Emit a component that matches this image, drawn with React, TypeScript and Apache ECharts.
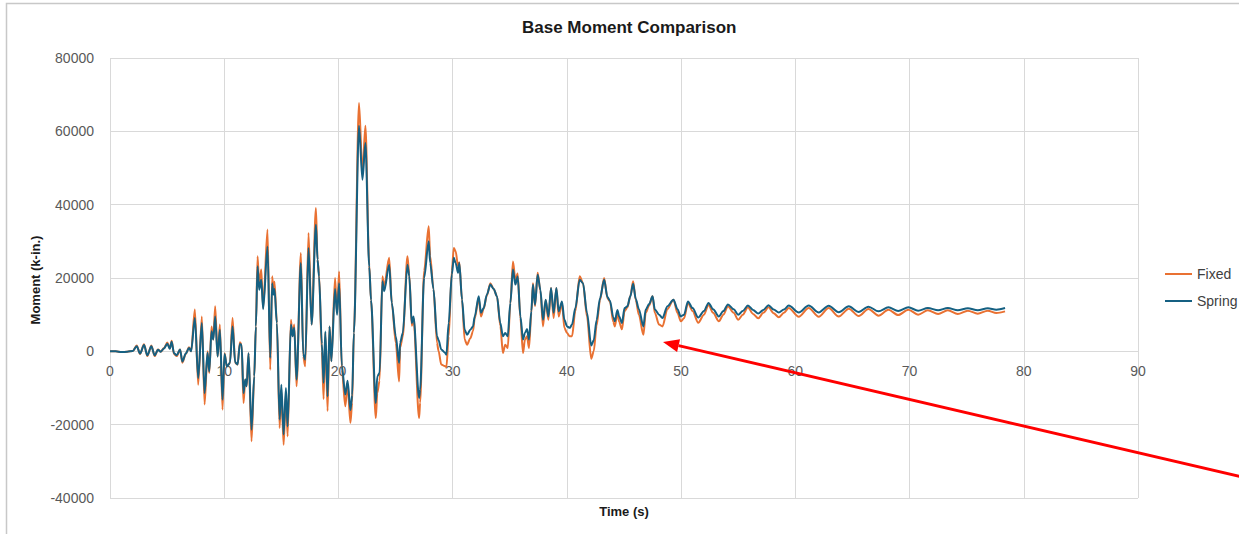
import React, { useEffect, useRef } from "react";
import * as echarts from "echarts";

const TITLE = "Base Moment Comparison";
const X_NAME = "Time (s)";
const Y_NAME = "Moment (k-in.)";
const SERIES_NAMES = ["Fixed", "Spring"];
const SERIES_COLORS = ["#E97132", "#156082"];
const X_MIN = 0;
const X_MAX = 90;
const X_STEP = 10;
const Y_MIN = -40000;
const Y_MAX = 80000;
const Y_STEP = 20000;

// time (s)
const times = [
  0, 0.5, 1.0, 1.5, 2.0, 2.34, 2.63, 2.98, 3.27, 3.62,
  3.91, 4.2, 4.44, 4.73, 5.02, 5.23, 5.4, 5.6, 5.84, 6.13,
  6.34, 6.63, 6.92, 7.1, 7.43, 7.72, 8.04, 8.28, 8.54, 8.69,
  8.89, 9.04, 9.21, 9.42, 9.62, 9.85, 10.03, 10.23, 10.5, 10.73,
  10.96, 11.17, 11.37, 11.52, 11.69, 11.84, 11.96, 12.13, 12.39, 12.63,
  12.77, 12.92, 13.06, 13.24, 13.41, 13.79, 14.03, 14.2, 14.3, 14.4,
  14.61, 14.85, 15.0, 15.2, 15.4, 15.55, 15.84, 15.98, 16.13, 16.33,
  16.71, 16.92, 17.09, 17.38, 17.65, 18.03, 18.17, 18.3, 18.55, 18.7,
  18.85, 19.05, 19.22, 19.38, 19.7, 19.88, 20.06, 20.3, 20.6, 20.8,
  21.05, 21.2, 21.35, 21.8, 22.1, 22.36, 22.7, 22.85, 23.27, 23.4,
  23.6, 23.85, 24.0, 24.44, 24.67, 25.02, 25.31, 25.4, 25.63, 26.04,
  26.2, 26.42, 26.57, 27.06, 27.15, 27.5, 27.9, 28.03, 28.32, 28.63,
  28.77, 29.0, 29.3, 29.45, 29.65, 29.93, 30.1, 30.26, 30.47, 30.58,
  30.82, 31.05, 31.26, 31.55, 31.78, 31.93, 32.28, 32.48, 32.71, 33.0,
  33.3, 33.59, 33.88, 34.17, 34.4, 34.6, 34.82, 35.05, 35.28, 35.49,
  35.69, 35.93, 36.16, 36.33, 36.51, 36.68, 36.89, 37.03, 37.21, 37.44,
  37.68, 37.91, 38.14, 38.38, 38.61, 38.84, 39.08, 39.28, 39.57, 39.78,
  40.01, 40.25, 40.45, 40.74, 41.12, 41.41, 41.76, 42.13, 42.35, 42.6,
  42.9, 43.26, 43.55, 43.77, 44.06, 44.2, 44.42, 44.58, 44.82, 45.05,
  45.3, 45.55, 45.8, 46.03, 46.3, 46.7, 46.9, 47.2, 47.5, 47.7,
  48.07, 48.37, 48.8, 49.33, 49.68, 49.97, 50.26, 50.6, 51.0, 51.5,
  52.0, 52.4, 52.8, 53.3, 53.7, 54.1, 54.6, 55.0, 55.4, 55.85,
  56.3, 56.75, 57.2, 57.65, 58.1, 58.55, 59.0, 59.42, 60.3, 61.17,
  62.05, 62.92, 63.8, 64.68, 65.55, 66.4, 67.28, 68.15, 69.0, 69.9,
  70.75, 71.6, 72.5, 73.35, 74.22, 75.1, 75.97, 76.85, 77.6, 78.36,
];

// Fixed base moment (k-in.)
const fixedMoment = [
  0, 0, -200, -100, 100, 1600, -700, 1900, -1300, 1600,
  -1300, 500, -100, 900, 2400, 800, 2900, -700, -1300, 500,
  -3100, -700, 1100, 0, 11400, -9100, 9500, -14500, 0, -5900,
  6800, 3200, 12300, -1400, 7300, -15900, -500, -4100, -3200, 9100,
  -3200, -3600, 2500, 1800, -14100, -7700, -9500, -500, -24500, -6800,
  6800, 25900, 17700, 22300, 11800, 33200, -5000, 20500, 16500, 19000,
  7700, -20900, -10500, -25500, -11400, -23200, 8600, 4100, 7300, -9500,
  26800, -1400, -4100, 32300, 7300, 39100, 25000, 21000, 0, -13000,
  5000, -16300, 6800, -2700, 20000, 10500, 21800, -5000, -15000, -9000,
  -19500, -14000, 5000, 67700, 48600, 61500, 23500, 14000, -18200, -11400,
  -8000, 20500, 17700, 25500, 13200, 2300, -8200, 1000, 4000, 25900,
  21000, 7000, 9000, -18200, -14000, 22000, 34100, 26000, 17000, 2300,
  0, -3600, -4000, -4300, 4100, 22000, 28200, 27300, 23200, 24300,
  14100, 3200, 1800, 3600, 5500, 9000, 14500, 9500, 11500, 15300,
  18600, 17000, 15000, 7000, -450, 1800, 900, 13000, 24500, 19500,
  21200, 9000, -450, 3200, 4100, 900, 10500, 18600, 12300, 21400,
  16500, 6800, 14000, 8600, 17300, 9100, 17300, 9500, 13200, 6400,
  5000, 4100, 4100, 11000, 20500, 18600, 9500, -2000, 0, 7000,
  14000, 20000, 14500, 13600, 8000, 6800, 10500, 8000, 6000, 11000,
  12000, 15000, 19100, 14000, 10000, 4500, 10500, 12500, 15000, 10500,
  7300, 6800, 11500, 14100, 10500, 8200, 9000, 13200, 11000, 7800,
  10000, 12700, 10500, 8200, 10000, 12300, 10500, 8600, 10000, 12000,
  10200, 9000, 10500, 12000, 10400, 9300, 10500, 11800, 9400, 11800,
  9400, 11800, 9500, 11640, 9640, 11550, 9730, 11360, 9900, 11360,
  10000, 11180, 10180, 11180, 10180, 11090, 10270, 11090, 10450, 10900,
];

// Spring base moment (k-in.)
const springMoment = [
  0, 0, -200, -100, 100, 1400, -600, 1700, -1100, 1400,
  -1100, 400, -100, 800, 2100, 700, 2600, -500, -1100, 500,
  -2800, -600, 900, 0, 9100, -7300, 7700, -11400, -400, -5500,
  5500, 3200, 9500, -1400, 5900, -13200, -700, -4100, -3200, 6800,
  -3000, -3600, 2000, 1800, -11400, -7700, -9500, -500, -21400, -6800,
  6800, 23200, 16800, 19500, 11500, 28600, -1800, 18600, 15500, 17000,
  7700, -18600, -9100, -22700, -10000, -20500, 7300, 4100, 6400, -7700,
  24100, -800, -2300, 28200, 7300, 34500, 25000, 20400, 2000, -8600,
  5400, -12300, 6800, -2700, 17000, 10000, 18600, -4000, -11800, -8000,
  -16000, -12000, 5000, 61500, 46800, 56800, 23000, 14000, -14100, -6800,
  -5900, 19100, 16400, 23600, 13200, 4100, -3200, 2300, 5000, 23600,
  20500, 7700, 9500, -12700, -10500, 20000, 30000, 24100, 17000, 4100,
  3000, 500, -300, -900, 7700, 21000, 25500, 24100, 21400, 24100,
  14100, 5900, 4500, 5900, 6800, 9500, 15000, 10500, 11800, 15500,
  18200, 17000, 15000, 7700, 4100, 5000, 4100, 13200, 22300, 18200,
  20400, 9500, 3200, 5000, 6100, 3200, 11000, 18200, 12700, 20900,
  16800, 8600, 14100, 9500, 17300, 10500, 17300, 10900, 13600, 8600,
  6800, 6400, 7300, 11800, 19500, 18600, 10500, 1600, 3000, 8500,
  14500, 19500, 14800, 13800, 9300, 8200, 11300, 9500, 7700, 11800,
  12300, 15000, 18400, 14300, 11500, 6800, 11400, 12900, 15000, 11400,
  10000, 9100, 12300, 14100, 11500, 9500, 10000, 13600, 11800, 9200,
  11000, 13200, 11500, 9500, 11000, 12800, 11500, 10000, 11000, 12500,
  11300, 10300, 11300, 12600, 11400, 10600, 11400, 12500, 10600, 12500,
  10600, 12450, 10640, 12270, 10730, 12180, 10900, 12000, 11000, 12000,
  11100, 11820, 11180, 11820, 11180, 11730, 11180, 11730, 11360, 11800,
];

const FONT = "'Liberation Sans', Arial, Helvetica, sans-serif";

export default function App() {
  const ref = useRef<HTMLDivElement>(null);

  useEffect(() => {
    document.body.style.margin = "0";
    if (!ref.current) return;
    const chart = echarts.init(ref.current, undefined, { renderer: "svg" });

    const seriesValues = [fixedMoment, springMoment];

    const series = SERIES_NAMES.map((name, k) => ({
      name,
      type: "line",
      data: times.map((t, i) => [t, seriesValues[k][i]]),
      showSymbol: false,
      symbol: "none",
      smooth: 0.3,
      smoothMonotone: "x",
      lineStyle: { color: SERIES_COLORS[k], width: 2 },
      itemStyle: { color: SERIES_COLORS[k] },
      z: 3 + k,
    }));

    const gridTop = 58;
    const gridBottom = 36;
    const plotH = 534 - gridTop - gridBottom;
    // distance from bottom edge of plot to the zero line
    const zeroFromBottom = (plotH * (0 - Y_MIN)) / (Y_MAX - Y_MIN);

    // arrow annotation
    const tip = [663, 342];
    const tail = [1242, 477];
    const dx = tip[0] - tail[0];
    const dy = tip[1] - tail[1];
    const len = Math.sqrt(dx * dx + dy * dy);
    const ux = dx / len;
    const uy = dy / len;
    const headLen = 16;
    const headHalf = 6.5;
    const bx = tip[0] - ux * headLen;
    const by = tip[1] - uy * headLen;
    const nx = -uy;
    const ny = ux;

    chart.setOption({
      animation: false,
      backgroundColor: "#ffffff",
      title: {
        text: TITLE,
        left: 517,
        top: 14,
        textStyle: { fontFamily: FONT, fontSize: 17, fontWeight: "bold", color: "#1a1a1a" },
      },
      legend: {
        orient: "vertical",
        left: 1160,
        top: 262,
        padding: 5,
        itemWidth: 27,
        itemHeight: 2,
        itemGap: 13,
        icon: "rect",
        data: SERIES_NAMES,
        textStyle: { fontFamily: FONT, fontSize: 14, color: "#404040" },
      },
      grid: { left: 110, right: 101, top: gridTop, bottom: gridBottom, containLabel: false },
      xAxis: {
        type: "value",
        min: X_MIN,
        max: X_MAX,
        interval: X_STEP,
        axisLine: { show: false, onZero: false },
        axisTick: { show: false },
        axisLabel: {
          color: "#595959",
          fontSize: 14,
          fontFamily: FONT,
          margin: -zeroFromBottom + 13,
        },
        splitLine: { show: true, lineStyle: { color: "#d9d9d9", width: 1 } },
      },
      yAxis: {
        type: "value",
        min: Y_MIN,
        max: Y_MAX,
        interval: Y_STEP,
        axisLine: { show: false },
        axisTick: { show: false },
        axisLabel: {
          color: "#595959",
          fontSize: 14,
          fontFamily: FONT,
          margin: 16,
          formatter: (v: number) => String(v),
        },
        splitLine: { show: true, lineStyle: { color: "#d9d9d9", width: 1 } },
      },
      graphic: [
        {
          type: "rect",
          shape: { x: 6.5, y: 3.5, width: 1300, height: 600 },
          style: { fill: "none", stroke: "#c8c8c8", lineWidth: 1.5 },
          silent: true,
          z: 0,
        },
        {
          type: "text",
          x: 624,
          y: 511,
          style: {
            text: X_NAME,
            font: `bold 13px ${FONT}`,
            fill: "#1a1a1a",
            align: "center",
            verticalAlign: "middle",
          },
        },
        {
          type: "text",
          x: 35,
          y: 280,
          rotation: Math.PI / 2,
          style: {
            text: Y_NAME,
            font: `bold 13px ${FONT}`,
            fill: "#1a1a1a",
            align: "center",
            verticalAlign: "middle",
          },
        },
        {
          type: "line",
          shape: { x1: tail[0], y1: tail[1], x2: bx, y2: by },
          style: { stroke: "#ff0000", lineWidth: 3 },
          z: 100,
        },
        {
          type: "polygon",
          shape: {
            points: [
              [tip[0], tip[1]],
              [bx + nx * headHalf, by + ny * headHalf],
              [bx - nx * headHalf, by - ny * headHalf],
            ],
          },
          style: { fill: "#ff0000" },
          z: 100,
        },
      ],
      series,
    });

    return () => chart.dispose();
  }, []);

  return <div ref={ref} style={{ width: 1239, height: 534 }} />;
}
